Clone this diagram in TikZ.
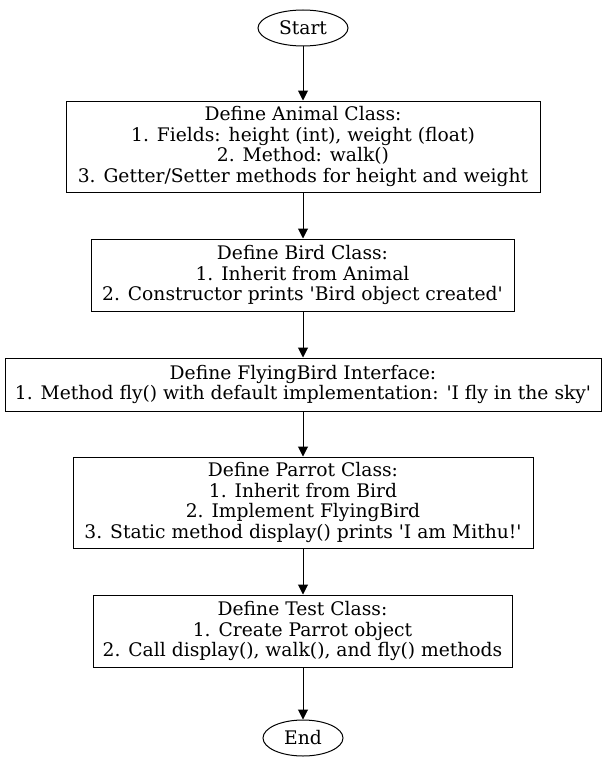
\documentclass[tikz,border=0pt]{standalone}
\usepackage{fontspec}
\setmainfont{DejaVu Serif}
\usepackage{tikz}
\usetikzlibrary{positioning,shapes.geometric,arrows.meta}

\newcommand{\sq}{\textquotesingle}

\begin{document}
\begin{tikzpicture}[x=1pt, y=-1pt,
    % Style start/end (ellipse)
    termnode/.style={ellipse, draw=black, line width=1pt, fill=white, inner sep=0pt, minimum height=36pt, font=\fontsize{18.7}{20.5}\selectfont},
    % Style class boxes
    classbox/.style={rectangle, draw=black, line width=1pt, fill=white, align=center, inner sep=0pt, font=\fontsize{18.7}{20.5}\selectfont},
    % Style arrows
    flow/.style={draw=black, line width=1pt, -{Triangle[length=10pt, width=10pt]}}
  ]
  \useasboundingbox (0,0) rectangle (607,768);

  % --- NODES ---
  \node[termnode, minimum width=90pt] (start) at (303, 28) {Start};

  \node[classbox, minimum width=474pt, minimum height=91pt] (animal) at (303, 146.5)
    {Define Animal Class:\\1. Fields: height (int), weight (float)\\2. Method: walk()\\3. Getter/Setter methods for height and weight};

  \node[classbox, minimum width=423pt, minimum height=72pt] (bird) at (302.5, 275)
    {Define Bird Class:\\1. Inherit from Animal\\2. Constructor prints \sq Bird object created\sq};

  \node[classbox, minimum width=596pt, minimum height=53pt] (flying) at (303, 384.5)
    {Define FlyingBird Interface:\\1. Method fly() with default implementation: \sq I fly in the sky\sq};

  \node[classbox, minimum width=460pt, minimum height=91pt] (parrot) at (303, 502.5)
    {Define Parrot Class:\\1. Inherit from Bird\\2. Implement FlyingBird\\3. Static method display() prints \sq I am Mithu!\sq};

  \node[classbox, minimum width=419pt, minimum height=72pt] (test) at (302.5, 631)
    {Define Test Class:\\1. Create Parrot object\\2. Call display(), walk(), and fly() methods};

  \node[termnode, minimum width=80pt] (end) at (303, 738) {End};

  % --- EDGES ---
  \draw[flow] (start) -- (animal);
  \draw[flow] (animal) -- (animal |- bird.north);
  \draw[flow] (animal |- bird.south) -- (animal |- flying.north);
  \draw[flow] (flying) -- (flying |- parrot.north);
  \draw[flow] (flying |- parrot.south) -- (flying |- test.north);
  \draw[flow] (flying |- test.south) -- (end);
\end{tikzpicture}
\end{document}
